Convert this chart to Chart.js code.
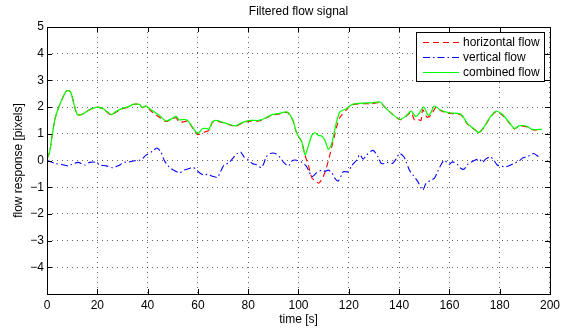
<!DOCTYPE html>
<html>
<head>
<meta charset="utf-8">
<script src="https://cdn.jsdelivr.net/npm/chart.js@4/dist/chart.umd.min.js"></script>
<style>
    html, body { margin: 0; padding: 0; background: #fff; }
    #box { width: 564px; height: 329px; }
</style>
</head>
<body>
<div id="box"><canvas id="graficoFluxo"></canvas></div>
<script>
// time [s] and values
var horizT = [0, 1, 2, 3.2, 4.5, 6, 7.5, 8.5, 9.5, 10.5, 12, 13.7, 15.5, 17.7, 20.3, 22.4, 24, 25.6, 27.5, 30.8,
    32.5, 34.1, 36.7, 38, 39.4, 41, 42.7, 44.7, 47.3, 49.9, 51.3, 52.6, 54.5, 55.9, 57.8, 59.2, 60, 61.8, 63.8, 64.4,
    65.7, 67.1, 69.7, 73, 75, 77.6, 80.9, 84.2, 86.8, 89.5, 92.1, 95.4, 96.7, 98, 99, 100, 101.3, 102.6, 104, 105.3,
    106.6, 108, 109.2, 110.5, 111.9, 113.2, 114.5, 115.1, 116.5, 119.1, 121.1, 125.7, 129, 132.5, 134.3, 137.5, 140.4, 142.6, 144.8, 146.1,
    147.4, 148.7, 149.4, 151.1, 152.7, 154.7, 156.6, 159.2, 160.6, 164.6, 167.2, 170.5, 171.6, 173.8, 175.8, 178.4, 181, 183.7, 185.9, 187.6,
    190.9, 192.9, 196.8];
var horizV = [0.07, 0.3, 0.9, 1.57, 1.95, 2.3, 2.58, 2.62, 2.55, 2.2, 1.73, 1.72, 1.82, 1.94, 2.0, 1.92, 1.8, 1.7, 1.82, 1.96,
    2.0, 2.1, 2.1, 1.98, 2.04, 1.88, 1.75, 1.62, 1.46, 1.56, 1.6, 1.44, 1.45, 1.48, 1.24, 1.02, 0.97, 1.03, 1.1, 1.12,
    1.42, 1.48, 1.42, 1.32, 1.28, 1.4, 1.47, 1.48, 1.57, 1.7, 1.74, 1.8, 1.68, 1.45, 1.1, 0.9, 0.7, 0.2, -0.2, -0.65,
    -0.75, -0.85, -0.72, -0.45, 0.0, 0.5, 1.0, 1.25, 1.62, 1.9, 2.08, 2.13, 2.12, 2.17, 2.0, 1.72, 1.53, 1.64, 1.8, 1.52,
    1.55, 1.5, 1.9, 1.62, 1.7, 2.0, 1.86, 1.78, 1.76, 1.7, 1.36, 1.12, 1.03, 1.24, 1.55, 1.82, 1.7, 1.42, 1.18, 1.28,
    1.26, 1.15, 1.16];

var vertT = [0, 3.2, 5.8, 8.4, 9.7, 12.4, 15, 17, 19.6, 21, 23.6, 26.2, 28.2, 30.8, 32.8, 34.8, 36.8, 38, 39.4, 42,
    43.7, 45.3, 46.6, 48.6, 50.3, 52.6, 54.5, 56.5, 57.8, 59.2, 60.5, 62.5, 63.8, 65.5, 67.7, 69, 70.4, 72.3, 73.6, 75.6,
    77, 78.3, 80.2, 81.6, 83.5, 85.2, 86.2, 87.2, 88.8, 90.8, 92.8, 94.1, 96, 97.6, 99.3, 101.3, 103, 104, 105.3, 107.2,
    109.2, 110.5, 111.9, 113.2, 114.5, 115.8, 117.1, 117.8, 119.8, 121.1, 123.1, 124.4, 125.7, 127, 129.6, 131.6, 132.9, 134.2, 135.5, 137.3,
    138.9, 140.2, 141.9, 142.8, 144.1, 145.5, 147.4, 149.4, 150.7, 152.7, 154, 155.3, 156.6, 158, 159.9, 161.2, 163.2, 164.6, 165.9, 167.2,
    168.5, 170.1, 171.9, 173.1, 174.4, 176.2, 177.7, 179, 180.3, 182, 183.7, 185.6, 187.6, 189.3, 190.9, 192.2, 193.5, 195.5];
var vertV = [0, -0.11, -0.15, -0.2, -0.15, -0.07, -0.17, -0.07, -0.07, -0.17, -0.2, -0.27, -0.2, -0.07, -0.05, -0.01, 0.01, 0.07, 0.2, 0.35,
    0.47, 0.32, 0.01, -0.25, -0.36, -0.46, -0.36, -0.3, -0.26, -0.32, -0.45, -0.55, -0.51, -0.58, -0.63, -0.42, -0.17, -0.09, 0.05, 0.26,
    0.32, 0.14, 0.01, -0.11, -0.17, -0.27, -0.11, 0.14, 0.26, 0.26, 0.1, -0.07, -0.2, 0.0, 0.01, -0.07, -0.2, -0.36, -0.61, -0.46,
    -0.36, -0.4, -0.36, -0.46, -0.67, -0.77, -0.55, -0.42, -0.42, -0.2, 0.01, 0.22, 0.05, 0.2, 0.38, 0.14, -0.11, -0.11, -0.07, -0.11,
    0.07, 0.26, 0.14, -0.05, -0.36, -0.55, -0.78, -1.11, -0.86, -0.73, -0.67, -0.42, -0.17, 0.01, -0.15, -0.05, -0.15, -0.3, -0.32, -0.15,
    -0.07, 0.01, 0.05, -0.07, 0.05, 0.14, 0.01, -0.17, -0.2, -0.24, -0.2, -0.11, -0.02, 0.1, 0.14, 0.2, 0.26, 0.14];

var combT = [0, 1, 2, 3.2, 4.5, 6, 7.5, 8.5, 9.5, 10.5, 12, 13.7, 15.5, 17.7, 20.3, 22.4, 24, 25.6, 27.5, 30.8,
    32.5, 34.1, 36.7, 38, 39.4, 41, 42.7, 44.7, 47.3, 49.9, 51.3, 52.6, 54.5, 55.9, 57.8, 59.2, 60, 61.8, 63.8, 64.4,
    65.7, 67.1, 69.7, 73, 75, 77.6, 80.9, 84.2, 86.8, 89.5, 92.1, 95.4, 96.7, 98, 99, 100, 101.3, 102.6, 104, 105.3,
    106.6, 107.9, 109.2, 110.5, 111.9, 113.2, 115.1, 116.5, 119.1, 121.1, 125.7, 129, 132.5, 134.3, 137.5, 140.4, 142.6, 144.8, 146.6, 147.6,
    149.8, 151.6, 152.7, 154, 156.6, 159.2, 160.6, 164.6, 167.2, 170.5, 171.6, 173.8, 175.8, 178.4, 181, 183.7, 185.9, 187.6, 190.9, 192.9,
    196.8];
var combV = [0.07, 0.3, 0.9, 1.57, 1.95, 2.3, 2.58, 2.62, 2.55, 2.2, 1.73, 1.72, 1.82, 1.94, 2.0, 1.94, 1.82, 1.72, 1.84, 1.98,
    2.02, 2.1, 2.1, 1.98, 2.05, 1.92, 1.82, 1.69, 1.48, 1.58, 1.65, 1.52, 1.54, 1.5, 1.26, 1.07, 1.0, 1.19, 1.19, 1.16,
    1.44, 1.5, 1.44, 1.34, 1.3, 1.42, 1.5, 1.5, 1.59, 1.72, 1.76, 1.82, 1.7, 1.45, 1.1, 0.9, 0.7, 0.22, 0.57, 0.94,
    1.04, 0.94, 0.92, 0.76, 0.42, 0.63, 1.44, 1.82, 1.94, 2.09, 2.15, 2.16, 2.19, 2.0, 1.72, 1.54, 1.66, 1.85, 1.64, 1.72,
    2.0, 1.69, 1.8, 2.04, 1.88, 1.8, 1.78, 1.73, 1.38, 1.13, 1.04, 1.26, 1.57, 1.84, 1.73, 1.44, 1.19, 1.3, 1.28, 1.16,
    1.17];

var xTicks = [0, 20, 40, 60, 80, 100, 120, 140, 160, 180, 200];
var yTicks = [-5, -4, -3, -2, -1, 0, 1, 2, 3, 4, 5];

function pontos(ts, vs) {
    return ts.map(function (t, i) { return { x: t, y: vs[i] }; });
}

// caixa do grafico com ticks para dentro (estilo matlab)
const moldura = {
    id: 'moldura',
    afterDraw(chart) {
        const ctx = chart.ctx;
        const a = chart.chartArea;
        const sx = chart.scales.x;
        const sy = chart.scales.y;
        ctx.save();
        ctx.strokeStyle = '#000';
        ctx.lineWidth = 1;
        ctx.setLineDash([]);
        ctx.strokeRect(Math.round(a.left) + 0.5, Math.round(a.top) + 0.5, Math.round(a.right - a.left), Math.round(a.bottom - a.top));
        ctx.beginPath();
        xTicks.forEach(function (v) {
            const px = Math.round(sx.getPixelForValue(v)) + 0.5;
            ctx.moveTo(px, a.bottom); ctx.lineTo(px, a.bottom - 5);
            ctx.moveTo(px, a.top); ctx.lineTo(px, a.top + 5);
        });
        yTicks.forEach(function (v) {
            const py = Math.round(sy.getPixelForValue(v)) + 0.5;
            ctx.moveTo(a.left, py); ctx.lineTo(a.left + 5, py);
            ctx.moveTo(a.right, py); ctx.lineTo(a.right - 5, py);
        });
        ctx.stroke();
        ctx.restore();
    }
};

// legenda dentro da area, canto superior direito
const legendaCaixa = {
    id: 'legendaCaixa',
    afterDraw(chart) {
        const ctx = chart.ctx;
        const a = chart.chartArea;
        const w = 128, h = 49;
        const x0 = Math.round(a.right) - 6 - w;
        const y0 = Math.round(a.top) + 5;
        const sets = [0, 1, 2].map(function (i) { return chart.data.datasets[i]; });
        ctx.save();
        ctx.fillStyle = '#fff';
        ctx.fillRect(x0, y0, w, h);
        ctx.strokeStyle = '#000';
        ctx.lineWidth = 1;
        ctx.strokeRect(x0 + 0.5, y0 + 0.5, w, h);
        ctx.font = '12px "Liberation Sans", Arial, sans-serif';
        ctx.textBaseline = 'middle';
        sets.forEach(function (ds, i) {
            const yy = y0 + 10.5 + i * 15;
            ctx.strokeStyle = ds.borderColor;
            ctx.lineWidth = 1;
            ctx.setLineDash(ds.borderDash || []);
            ctx.beginPath();
            ctx.moveTo(x0 + 7, yy);
            ctx.lineTo(x0 + 43, yy);
            ctx.stroke();
            ctx.setLineDash([]);
            ctx.fillStyle = '#000';
            ctx.fillText(ds.label, x0 + 47, yy);
        });
        ctx.restore();
    }
};

function plotarGrafico() {
    Chart.defaults.color = '#000';
    Chart.defaults.font.family = '"Liberation Sans", Arial, sans-serif';
    Chart.defaults.font.size = 12;

    const ctx = document.getElementById('graficoFluxo').getContext('2d');

    new Chart(ctx, {
        type: 'line',
        data: {
            datasets: [
                {
                    label: 'horizontal flow',
                    data: pontos(horizT, horizV),
                    borderColor: '#ff0000',
                    borderWidth: 1.1,
                    borderDash: [6, 4],
                    order: 3
                },
                {
                    label: 'vertical flow',
                    data: pontos(vertT, vertV),
                    borderColor: '#0000ff',
                    borderWidth: 1.1,
                    borderDash: [7, 3, 1.5, 3],
                    order: 2
                },
                {
                    label: 'combined flow',
                    data: pontos(combT, combV),
                    borderColor: '#00ff00',
                    borderWidth: 1.2,
                    order: 1
                }
            ]
        },
        options: {
            responsive: true,
            maintainAspectRatio: false,
            animation: false,
            layout: { padding: { left: 0, right: 11, top: 0, bottom: 0 } },
            elements: {
                point: { radius: 0 },
                line: { tension: 0.25, fill: false }
            },
            plugins: {
                legend: { display: false },
                tooltip: { enabled: false },
                title: {
                    display: true,
                    text: 'Filtered flow signal',
                    fullSize: false,
                    font: { size: 12, weight: 'normal' },
                    padding: { top: 4, bottom: 8.6 }
                }
            },
            scales: {
                x: {
                    type: 'linear',
                    min: 0,
                    max: 200,
                    afterFit: function (s) { s.height = 35; },
                    afterBuildTicks: function (s) { s.ticks = xTicks.map(function (v) { return { value: v }; }); },
                    ticks: { padding: 4, maxRotation: 0, autoSkip: false },
                    grid: {
                        color: 'rgba(0,0,0,0.6)',
                        drawTicks: false
                    },
                    border: { display: false, dash: [1, 4] },
                    title: {
                        display: true,
                        text: 'time [s]',
                        font: { size: 12 },
                        padding: { top: 0, bottom: 2 }
                    }
                },
                y: {
                    min: -5,
                    max: 5,
                    afterFit: function (s) { s.width = 47; },
                    afterBuildTicks: function (s) { s.ticks = yTicks.map(function (v) { return { value: v }; }); },
                    ticks: {
                        padding: 3,
                        autoSkip: false,
                        callback: function (v) {
                            if (v === -5) return '';
                            return String(v).replace('-', '\u2212');
                        }
                    },
                    grid: {
                        color: 'rgba(0,0,0,0.6)',
                        drawTicks: false
                    },
                    border: { display: false, dash: [1, 4] },
                    title: {
                        display: true,
                        text: 'flow response [pixels]',
                        font: { size: 12 },
                        padding: { top: 11, bottom: 0 }
                    }
                }
            }
        },
        plugins: [moldura, legendaCaixa]
    });
}

plotarGrafico();
</script>
</body>
</html>
